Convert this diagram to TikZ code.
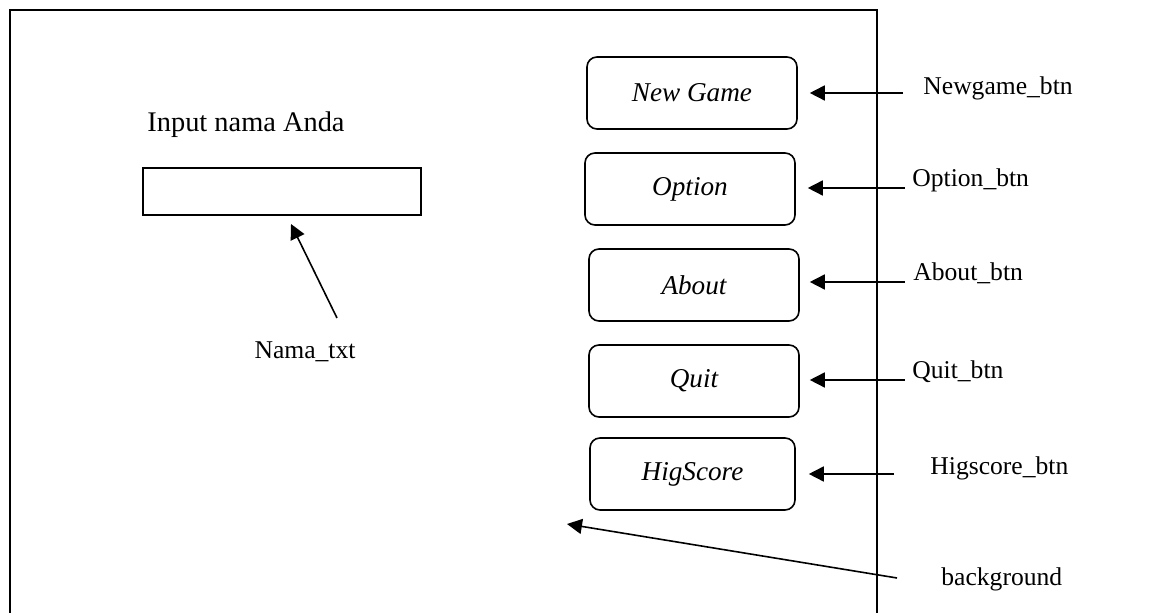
\documentclass[tikz,border=0pt]{standalone}
\usepackage{fontspec}
\setmainfont{Liberation Serif}
\usetikzlibrary{arrows.meta}

\tikzset{
	btn/.style={draw, line width=0.8pt, rounded corners=5pt, minimum width=105pt,
		minimum height=36pt, font=\fontsize{13.6}{16}\selectfont\itshape},
	lbl/.style={inner sep=0pt, font=\fontsize{12.8}{15}\selectfont},
	ptr/.style={-{Triangle[length=7.5pt,width=7.5pt]}, line width=0.8pt}
}

\begin{document}
\begin{tikzpicture}[x=0.5pt, y=-0.5pt]
		\useasboundingbox (0,0) rectangle (1158,613);

		\coordinate (fbl) at (10,  616);
		\coordinate (ftl) at (10,  10);
		\coordinate (ftr) at (877, 10);
		\coordinate (fbr) at (877, 616);

		\coordinate (tnama) at (337, 318);
		\coordinate (hnama) at (291, 224);
		\coordinate (tnew)  at (903, 93);
		\coordinate (topt)  at (905, 188);
		\coordinate (tabt)  at (905, 282);
		\coordinate (tquit) at (905, 380);
		\coordinate (thig)  at (894, 474);
		\coordinate (tbg)   at (897, 578);
		\coordinate (hbg)   at (567, 524);

		% background frame
		\draw [line width=1pt] (fbl) -- (ftl) -- (ftr) -- (fbr);

		% name input
		\node [lbl, font=\fontsize{14.2}{17}\selectfont, anchor=base] (inputlbl) at (246, 132) {Input nama Anda};
		\node [draw, line width=0.8pt, minimum width=139pt, minimum height=23.5pt] (namabox) at (282, 191.5) {};
		\node [lbl, anchor=base] (namalbl) at (305, 359) {Nama\_txt};
		\draw (tnama) [ptr]-- (hnama);

		% buttons
		\node [btn] (newgame)  at (692, 93)  {New Game};
		\node [btn] (option)   at (690, 189) {Option};
		\node [btn] (about)    at (694, 285) {About};
		\node [btn] (quit)     at (694, 381) {Quit};
		\node [btn, minimum width=102.5pt] (higscore) at (692.5, 474) {HigScore};

		% labels
		\node [lbl, anchor=base west] (newlbl)  at (923, 95)  {Newgame\_btn};
		\node [lbl, anchor=base west] (optlbl)  at (912, 187) {Option\_btn};
		\node [lbl, anchor=base west] (abtlbl)  at (913, 281) {About\_btn};
		\node [lbl, anchor=base west] (quitlbl) at (912, 379) {Quit\_btn};
		\node [lbl, anchor=base west] (higlbl)  at (930, 475) {Higscore\_btn};
		\node [lbl, anchor=base west] (bglbl)   at (941, 586) {background};

		\draw (tnew)  [ptr, shorten >=6pt]-- (newgame.east |- tnew);
		\draw (topt)  [ptr, shorten >=6pt]-- (option.east |- topt);
		\draw (tabt)  [ptr, shorten >=5pt]-- (about.east |- tabt);
		\draw (tquit) [ptr, shorten >=5pt]-- (quit.east |- tquit);
		\draw (thig)  [ptr, shorten >=6.5pt]-- (higscore);
		\draw (tbg)   [ptr]-- (hbg);
	\end{tikzpicture}
\end{document}
